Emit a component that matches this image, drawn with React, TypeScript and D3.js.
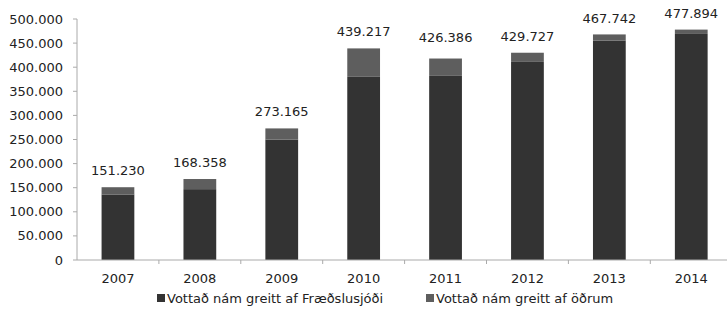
import React from "react";
import * as d3 from "d3";

const years = ["2007", "2008", "2009", "2010", "2011", "2012", "2013", "2014"];
const fraedslusjodur = [136000, 147000, 250000, 380000, 382000, 411000, 455000, 469000];
const odrum = [15000, 21000, 23000, 59000, 36000, 19000, 13000, 9000];
const totals = [151230, 168358, 273165, 439217, 426386, 429727, 467742, 477894];
const totalLabels = ["151.230", "168.358", "273.165", "439.217", "426.386", "429.727", "467.742", "477.894"];
const yTicks = [0, 50000, 100000, 150000, 200000, 250000, 300000, 350000, 400000, 450000, 500000];
const seriesNames = ["Vottað nám greitt af Fræðslusjóði", "Vottað nám greitt af öðrum"];
const colors = ["#333333", "#5e5e5e"];

const W = 727, H = 309;
const left = 77, bottom = 260, top = 19;

export default function App() {
  const x = d3.scaleBand<string>().domain(years).range([left, left + 8 * 81.9]).padding(0);
  const y = d3.scaleLinear().domain([0, 500000]).range([bottom, top]);
  const bw = x.bandwidth() * 0.4;
  const fmt = (v: number) => (v === 0 ? "0" : d3.format(",")(v).replace(/,/g, "."));
  const font = "'DejaVu Sans', Verdana, sans-serif";

  return (
    <svg width={W} height={H} style={{ position: "absolute", left: 0, top: 0, background: "#fff" }} fontFamily={font}>
      {/* y axis */}
      <line x1={left} x2={left} y1={top} y2={bottom} stroke="#aaa" />
      {yTicks.map((t) => (
        <g key={t}>
          <line x1={left - 4} x2={left} y1={y(t)} y2={y(t)} stroke="#aaa" />
          <text x={63} y={y(t)} dy="0.35em" textAnchor="end" fontSize={13} fill="#222">
            {fmt(t)}
          </text>
        </g>
      ))}
      {/* bars */}
      {years.map((yr, i) => {
        const cx = x(yr)! + x.bandwidth() / 2;
        const a = fraedslusjodur[i];
        const b = odrum[i];
        return (
          <g key={yr}>
            <rect x={cx - bw / 2} width={bw} y={y(a)} height={y(0) - y(a)} fill={colors[0]} />
            <rect x={cx - bw / 2} width={bw} y={y(a + b)} height={y(a) - y(a + b)} fill={colors[1]} />
            <text x={cx} y={y(totals[i]) - 12} textAnchor="middle" fontSize={13} fill="#222">
              {totalLabels[i]}
            </text>
            <text x={cx} y={278} dy="0.35em" textAnchor="middle" fontSize={13} fill="#222">
              {yr}
            </text>
          </g>
        );
      })}
      {/* x axis */}
      <line x1={left} x2={W} y1={bottom} y2={bottom} stroke="#aaa" />
      {years.map((yr) => (
        <line key={"t" + yr} x1={x(yr)! + x.bandwidth()} x2={x(yr)! + x.bandwidth()} y1={bottom} y2={bottom + 4} stroke="#aaa" />
      ))}
      {/* legend */}
      {seriesNames.map((n, i) => {
        const lx = i === 0 ? 157 : 426;
        return (
          <g key={n}>
            <rect x={lx} y={294} width={8} height={8} fill={colors[i]} />
            <text x={lx + 10} y={298} dy="0.35em" fontSize={13} fill="#222">
              {n}
            </text>
          </g>
        );
      })}
    </svg>
  );
}
